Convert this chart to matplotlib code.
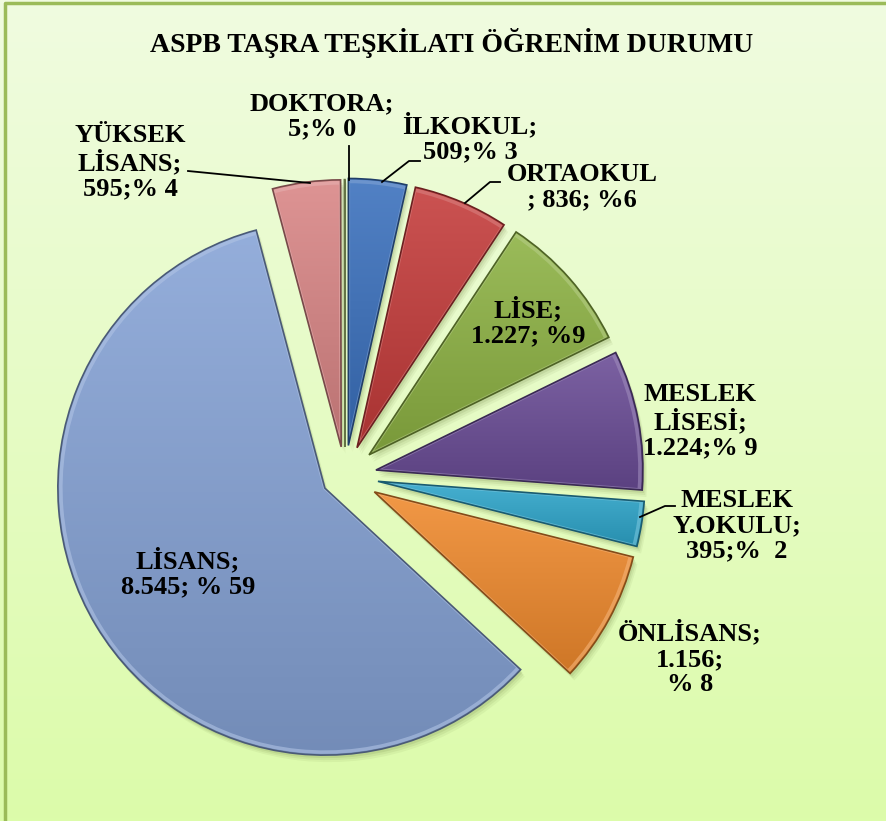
import numpy as np
import matplotlib.pyplot as plt
from matplotlib.colors import to_rgb
from matplotlib.patches import Wedge

# data (clockwise from 12 o'clock, Excel series order)
names = ["İLKOKUL", "ORTAOKUL", "LİSE", "MESLEK LİSESİ", "MESLEK Y.OKULU",
         "ÖNLİSANS", "LİSANS", "YÜKSEK LİSANS", "DOKTORA"]
counts = [509, 836, 1227, 1224, 395, 1156, 8545, 595, 5]
label_texts = ["İLKOKUL;\n509;% 3", "ORTAOKUL\n; 836; %6", "LİSE;\n1.227; %9",
               "MESLEK\nLİSESİ;\n1.224;% 9", "MESLEK\nY.OKULU;\n395;%  2",
               "ÖNLİSANS;\n1.156;\n% 8", "LİSANS;\n8.545; % 59",
               "YÜKSEK\nLİSANS;\n595;% 4", "DOKTORA;\n5;% 0"]
title = "ASPB TAŞRA TEŞKİLATI ÖĞRENİM DURUMU"

colors = ["#3a70bd", "#c43b3a", "#8db243", "#6a4c96", "#2ea6cb",
          "#f08a2d", "#86a3d6", "#d98585", "#b5d27e"]
# explode as fraction of radius
explode = [0.115, 0.115, 0.12, 0.118, 0.125, 0.125, 0.088, 0.11, 0.11]

# layout in pixel coords (y from top)
W, H = 887, 821
label_pos = [(470, 138), (582, 187), (528, 322), (700, 421), (737, 526),
             (690, 658), (188, 573), (130, 162), (322, 116)]
leaders = [[(382, 182), (409, 161), (420, 161)],
           [(465, 203), (490, 182), (500, 182)],
           None, None,
           [(640, 517), (665, 506), (675, 506)],
           None, None,
           [(310, 183), (188, 171)],
           [(349, 180), (349, 146)]]

plt.rcParams['font.family'] = ['Liberation Serif', 'DejaVu Serif']

fig = plt.figure(figsize=(W / 100, H / 100), dpi=100)
ax = fig.add_axes([0, 0, 1, 1])

# background gradient
grad = np.linspace(0, 1, 256)[:, None]
top = np.array(to_rgb("#f0fbe0"))
bot = np.array(to_rgb("#dcfcaa"))
bg = top[None, None, :] * (1 - grad[..., None]) + bot[None, None, :] * grad[..., None]
ax.imshow(bg, extent=[0, W, 0, H], origin='upper', aspect='auto', zorder=0)
ax.plot([5, 5, W], [-5, H - 3, H - 3], color="#9bbb59", lw=2.5, zorder=0.2)

cx, cy, R = 345, H - 476, 267
wedges, _ = ax.pie(counts, colors=colors, startangle=90, counterclock=False,
                   explode=[e * R for e in explode], center=(cx, cy), radius=R,
                   wedgeprops=dict(linewidth=1.0))

for w, c in zip(wedges, colors):
    base = np.array(to_rgb(c))
    light = base + (1 - base) * 0.12
    dark = base * 0.86
    wx, wy = w.center
    th = np.radians(np.linspace(w.theta1, w.theta2, 50))
    xs = np.r_[wx, wx + w.r * np.cos(th)]
    ys = np.r_[wy, wy + w.r * np.sin(th)]
    # soft shadow
    for k, a in [(7, 0.08), (5, 0.10), (3, 0.14)]:
        sh = Wedge((wx + k * 0.6, wy - k), w.r, w.theta1, w.theta2,
                   facecolor="#6b7d3e", alpha=a, edgecolor='none', zorder=1)
        ax.add_patch(sh)
    g = np.linspace(0, 1, 128)[:, None, None]
    img = light[None, None, :] * (1 - g) + dark[None, None, :] * g
    im = ax.imshow(img, extent=[xs.min(), xs.max(), ys.min(), ys.max()],
                   origin='upper', aspect='auto', zorder=2)
    im.set_clip_path(w)
    # bevel highlight just inside the rim
    hl = Wedge((wx, wy), w.r - 3, w.theta1, w.theta2, facecolor='none',
               edgecolor=tuple(base + (1 - base) * 0.35), lw=2.5, alpha=0.6,
               zorder=2.5)
    ax.add_patch(hl)
    hl.set_clip_path(w)
    w.set_facecolor('none')
    w.set_edgecolor(tuple(base * 0.55))
    w.set_linewidth(1.2)
    w.set_zorder(3)

for txt, (x, y) in zip(label_texts, label_pos):
    ax.text(x, H - y, txt, ha='center', va='center', fontsize=19,
            fontweight='bold', linespacing=1.12, zorder=5)

for ln in leaders:
    if ln is None:
        continue
    xs = [p[0] for p in ln]
    ys = [H - p[1] for p in ln]
    ax.plot(xs, ys, color='black', lw=1.3, zorder=4)

ax.text(452, H - 43, title, ha='center', va='center', fontsize=20,
        fontweight='bold', zorder=5)

ax.set_xlim(0, W)
ax.set_ylim(0, H)
ax.set_aspect('auto')
ax.axis('off')

fig.savefig("out.png", dpi=100)
